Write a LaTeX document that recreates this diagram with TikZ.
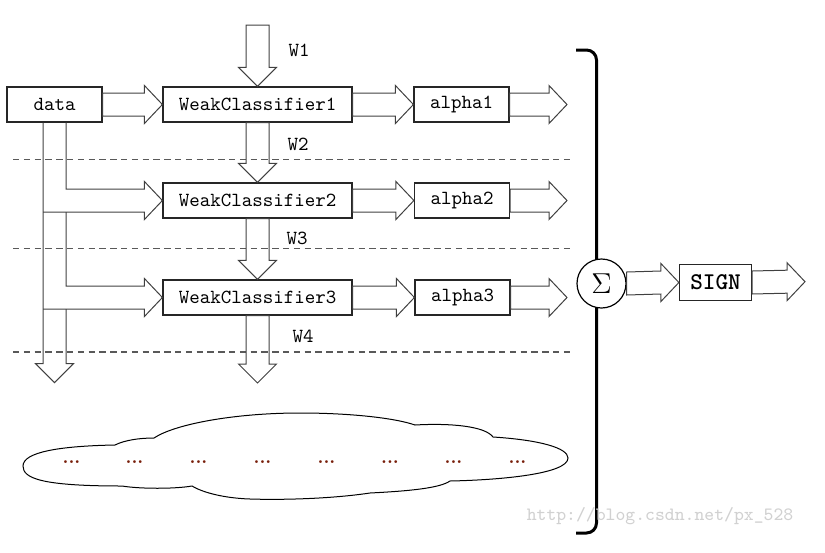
\documentclass[tikz,border=0pt]{standalone}
\usepackage{fontspec}
\usepackage{xcolor}
\usepackage{tikz}
\usetikzlibrary{calc}

\definecolor{dotred}{RGB}{120,30,10}

% fat block arrows between two anchors
\newcommand{\fatright}[2]{%
  \draw[fat] ($(#1)+(0,-11.5)$) -- ($(#2)+(-18,-11.5)$) -- ($(#2)+(-18,-19)$) -- (#2)
    -- ($(#2)+(-18,19)$) -- ($(#2)+(-18,11.5)$) -- ($(#1)+(0,11.5)$) -- cycle;}
\newcommand{\fatdown}[2]{%
  \draw[fat] ($(#1)+(-11.5,0)$) -- ($(#2)+(-11.5,-19)$) -- ($(#2)+(-19,-19)$) -- (#2)
    -- ($(#2)+(19,-19)$) -- ($(#2)+(11.5,-19)$) -- ($(#1)+(11.5,0)$) -- cycle;}

\begin{document}
\begin{tikzpicture}[x=0.5pt,y=-0.5pt,
        box/.style={draw=black!85, line width=0.6pt, minimum height=17.5pt, inner sep=0pt, font=\ttfamily},
        fat/.style={draw=black!75, line width=0.5pt},
        sep/.style={draw=black!65, line width=0.6pt, dash pattern=on 3.2pt off 2.2pt},
        lab/.style={font=\ttfamily},
        dots/.style={text=dotred, font=\small\bfseries}]
        \useasboundingbox (0,0) rectangle (825,552);

        % Data
        \node[box, minimum width=47.5pt] (data) at (54.5,104.5) {data};

        % Weak classifiers
        \node[box, minimum width=94.5pt] (wc1) at (257.5,104.5) {WeakClassifier1};
        \node[box, minimum width=94.5pt] (wc2) at (257.5,200.5) {WeakClassifier2};
        \node[box, minimum width=94.5pt] (wc3) at (257.5,297.5) {WeakClassifier3};

        % Alphas
        \node[box, minimum width=47.5pt] (alpha1) at (461.5,104.5) {alpha1};
        \node[box, minimum width=47.5pt] (alpha2) at (462,200.5) {alpha2};
        \node[box, minimum width=47.5pt] (alpha3) at (462.5,297.5) {alpha3};
        \coordinate (out1) at (567,104.5);
        \coordinate (out2) at (567,200.5);
        \coordinate (out3) at (567,297.5);

        % Weights
        \coordinate (w1src) at (257.5,25);
        \coordinate (w4end) at (257.5,383);
        \node[lab] (w1) at (299,50) {W1};
        \node[lab] (w2) at (298,144) {W2};
        \node[lab] (w3) at (297,238) {W3};
        \node[lab] (w4) at (303,336) {W4};

        % Separators
        \draw[sep] (13,159.5) -- (572,159.5);
        \draw[sep] (13,248.5) -- (572,248.5);
        \draw[sep] (13,352) -- (572,352);

        % Arrows along the rows
        \fatdown{w1src}{wc1.north}
        \fatdown{wc1.south}{wc2.north}
        \fatdown{wc2.south}{wc3.north}
        \fatdown{wc3.south}{w4end}
        \fatright{data.east}{wc1.west}
        \fatright{wc1.east}{alpha1.west}
        \fatright{wc2.east}{alpha2.west}
        \fatright{wc3.east}{alpha3.west}
        \fatright{alpha1.east}{out1}
        \fatright{alpha2.east}{out2}
        \fatright{alpha3.east}{out3}

        % Data branches
        \coordinate (lx) at ($(data.south)+(-11.5,0)$);
        \coordinate (rx) at ($(data.south)+(11.5,0)$);
        \coordinate (drop) at ($(data.south)+(0,260)$);
        \coordinate (hb) at ($(drop)+(0,-19)$);
        \coordinate (t2) at ($(wc2.west)+(-18,-11.5)$);
        \coordinate (b2) at ($(wc2.west)+(-18,11.5)$);
        \coordinate (t3) at ($(wc3.west)+(-18,-11.5)$);
        \coordinate (b3) at ($(wc3.west)+(-18,11.5)$);
        \draw[fat] (rx) |- (t2) -- ++(0,-7.5) -- (wc2.west) -- ($(b2)+(0,7.5)$) -- (b2) -- (lx |- b2);
        \draw[fat] (rx |- b2) |- (t3) -- ++(0,-7.5) -- (wc3.west) -- ($(b3)+(0,7.5)$) -- (b3) -- (lx |- b3);
        \draw[fat] (rx |- b3) -- (rx |- hb) -- ++(7.5,0) -- (drop) -- ($(hb)+(-19,0)$) -- (lx |- hb) -- (lx);

        % Bracket
        \draw[line width=1.5pt, rounded corners=5pt] (576,50) -- (596.5,50) -- (596.5,533) -- (576,533);

        % Sum and sign
        \node[draw, circle, fill=white, line width=0.6pt, minimum size=24.5pt, inner sep=0pt, font=\Large] (sum) at (601.5,283.5) {$\Sigma$};
        \node[box, minimum width=36pt, minimum height=18pt, font=\ttfamily\bfseries\fontsize{12}{13}\selectfont] (sign) at (715.5,282.5) {SIGN};
        \coordinate (signout) at (805,281.7);
        \fatright{sum.east}{sign.west}
        \fatright{sign.east}{signout}

        % Cloud
        \draw[line width=0.5pt] (122,486) .. controls (40,486) and (23,478) .. (23,466)
            .. controls (23,452) and (60,446) .. (115,445)
            .. controls (125,440) and (140,438) .. (154,438)
            .. controls (175,424) and (235,413) .. (300,413)
            .. controls (350,413) and (395,418) .. (415,425)
            .. controls (450,423) and (485,426) .. (493,437)
            .. controls (540,440) and (568,448) .. (568,458)
            .. controls (568,474) and (500,480) .. (450,481)
            .. controls (440,488) and (410,491) .. (370,493)
            .. controls (330,499) and (280,500) .. (250,499)
            .. controls (220,498) and (200,491) .. (192,486)
            .. controls (175,489) and (140,489) .. (122,486) -- cycle;
        \node[dots] (dot1) at (71.5,462) {...};
        \node[dots] (dot2) at (134.5,462) {...};
        \node[dots] (dot3) at (198.5,462) {...};
        \node[dots] (dot4) at (262.5,462) {...};
        \node[dots] (dot5) at (326.5,462) {...};
        \node[dots] (dot6) at (390,462) {...};
        \node[dots] (dot7) at (453.5,462) {...};
        \node[dots] (dot8) at (517.5,462) {...};

        % Watermark
        \node[text=black!18, font=\ttfamily\fontsize{9.4}{10}\selectfont] (mark) at (660,516) {http://blog.csdn.net/px\_528};
    \end{tikzpicture}
\end{document}
